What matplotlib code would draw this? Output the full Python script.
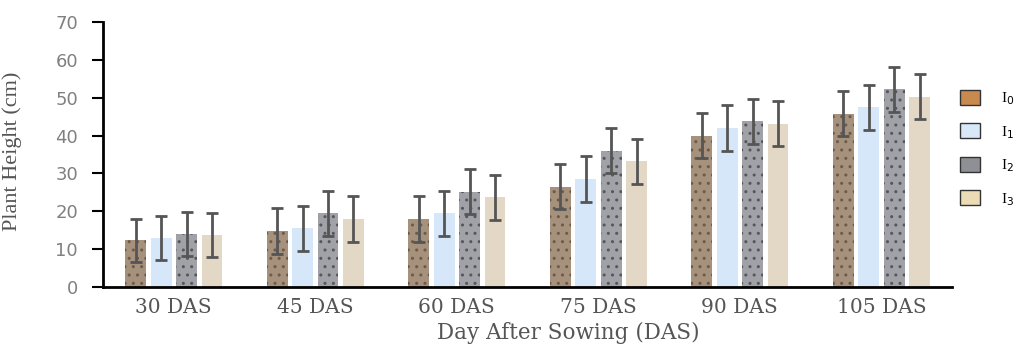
import numpy as np
import matplotlib.pyplot as plt
from matplotlib.patches import Patch

# data
days = ['30 DAS', '45 DAS', '60 DAS', '75 DAS', '90 DAS', '105 DAS']
treatments = ['I$_0$', 'I$_1$', 'I$_2$', 'I$_3$']
I0 = [12.3, 14.8, 18.0, 26.5, 40.0, 45.8]
I1 = [13.0, 15.5, 19.5, 28.5, 42.0, 47.5]
I2 = [14.0, 19.5, 25.2, 36.0, 43.8, 52.2]
I3 = [13.8, 18.0, 23.7, 33.2, 43.2, 50.3]
err = [5.8, 6.0, 6.0, 6.0, 6.0, 6.0]

heights = [I0, I1, I2, I3]
colors = ['#a6917d', '#d5e7f8', '#a0a2a8', '#e3d8c6']
hatch_col = ['#6e5a48', '#c4daf0', '#55575c', '#d8ccb6']
hatches = ['..', '', '..', '']
legend_col = ['#c98a50', '#d8e8f8', '#8f9095', '#ecdcb6']

fig = plt.figure(figsize=(10.15, 3.45), dpi=100)
ax = fig.add_axes([0.1015, 0.168, 0.8365, 0.768])

x = np.arange(len(days))
w = 0.148
step = 0.18
for i in range(4):
    xs = x + (i - 1.5) * step
    ax.bar(xs, heights[i], width=w, color=colors[i], edgecolor=hatch_col[i],
           hatch=hatches[i], linewidth=0, zorder=2)
    ax.errorbar(xs, heights[i], yerr=err, fmt='none', ecolor='#555555',
                elinewidth=2, capsize=4.5, capthick=2, zorder=3)

ax.set_xlim(-0.5, 5.5)
ax.set_ylim(0, 70)
ax.set_yticks(range(0, 71, 10))
ax.set_xticks(x)
ax.set_xticklabels(days, family='DejaVu Serif', fontsize=14.5, color='#555555')
ax.tick_params(axis='x', length=0, pad=8)
ax.tick_params(axis='y', length=8, width=1.5, labelsize=13, labelcolor='#808080',
               color='black', pad=10)
for s in ['top', 'right']:
    ax.spines[s].set_visible(False)
ax.spines['left'].set_linewidth(2)
ax.spines['bottom'].set_linewidth(2)

ax.set_xlabel('Day After Sowing (DAS)', family='DejaVu Serif', fontsize=15.5,
              color='#555555')
ax.xaxis.set_label_coords(0.548, -0.13)
ax.set_ylabel('Plant Height (cm)', family='Liberation Serif', fontsize=16,
              color='#555555')
ax.yaxis.set_label_coords(-0.095, 0.513)

handles = [Patch(facecolor=legend_col[i], edgecolor='#333333', linewidth=1) for i in range(4)]
fig.legend(handles, treatments, loc='upper left', bbox_to_anchor=(0.946, 0.74),
           frameon=False, borderpad=0, borderaxespad=0,
           handlelength=1.3, handleheight=1.15, labelspacing=1.05, handletextpad=1.4,
           prop={'family': 'Liberation Serif', 'size': 11})

fig.savefig('out.png')
